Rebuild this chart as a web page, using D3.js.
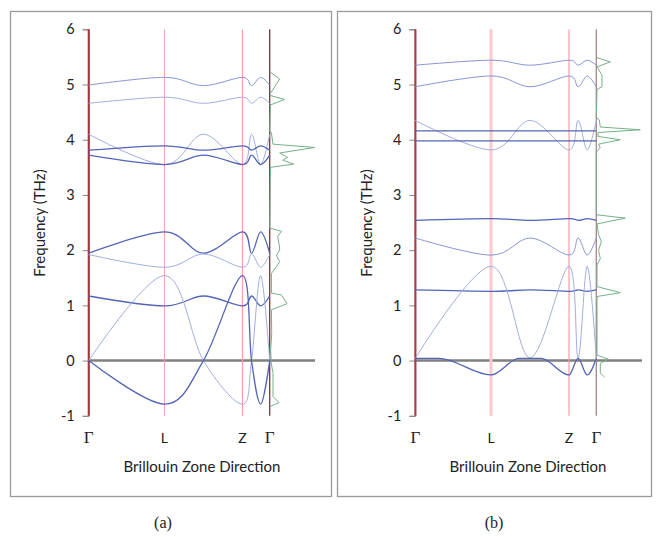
<!DOCTYPE html>
<html>
<head>
<meta charset="utf-8">
<script src="https://cdn.jsdelivr.net/npm/d3@7"></script>
<style>
  body { margin: 0; background: #fff; }
</style>
</head>
<body>
<script>
// tick labels and path points
const freqTicks = [-1, 0, 1, 2, 3, 4, 5, 6];
const kNames = ["Γ", "L", "Z", "Γ"];
const kMarks = [0, 1, 2.03, 2.39];
const kPath = [0, 1, 1.515, 2.03, 2.15, 2.27, 2.39];
const kFlat = [0, 0.31, 1, 1.37, 1.515, 1.66, 2.03, 2.15, 2.27, 2.39];

// panel (a) bands, values on kPath (THz)
const a1 = [4.99, 5.13, 4.98, 5.13, 4.98, 5.13, 4.99];
const a2 = [4.66, 4.77, 4.66, 4.77, 4.66, 4.77, 4.66];
const a3 = [4.10, 3.55, 4.10, 3.55, 4.10, 3.55, 4.10];
const a4 = [3.81, 3.89, 3.81, 3.89, 3.81, 3.89, 3.81];
const a5 = [3.72, 3.55, 3.72, 3.55, 3.72, 3.55, 3.72];
const a6 = [1.945, 2.33, 1.945, 2.33, 1.945, 2.33, 1.945];
const a7 = [1.92, 1.69, 1.93, 1.69, 1.93, 1.69, 1.92];
const a8 = [1.17, 0.99, 1.17, 0.99, 1.17, 0.99, 1.17];
const a9 = [0, 1.54, 0, -0.79, 0, 1.54, 0];
const a10 = [0, -0.79, 0, 1.54, 0, -0.79, 0];

// panel (b) bands
const b1 = [5.35, 5.44, 5.35, 5.44, 5.35, 5.44, 5.35];
const b2 = [4.96, 5.155, 4.96, 5.155, 4.96, 5.155, 4.96];
const b3 = [4.35, 3.815, 4.35, 3.815, 4.35, 3.815, 4.35];
const b4 = [2.54, 2.57, 2.54, 2.57, 2.54, 2.57, 2.54];
const b5 = [2.22, 1.91, 2.22, 1.91, 2.22, 1.91, 2.22];
const b6 = [1.28, 1.255, 1.28, 1.255, 1.28, 1.255, 1.28];
const b7 = [0.04, 1.71, 0.05, 1.71, 0.04, 1.71, 0.04];
const b8 = [0.04, 0.04, -0.26, 0.04, 0.04, 0.04, -0.26, 0.04, -0.26, 0.04]; // on kFlat
const bFlat = [4.16, 3.98];

// density of states (freq, a.u.)
const dosAf = [5.23, 5.10, 4.84, 4.80, 4.73, 4.63, 4.15, 4.13, 3.92, 3.86, 3.76, 3.68, 3.63, 3.56, 3.50, 2.40, 2.34, 2.25, 2.10, 2.00, 1.91, 1.79, 1.70, 1.58, 1.22, 1.19, 1.03, 0.92, 0.50, 0.20, -0.04, -0.22, -0.65, -0.76, -0.83];
const dosAd = [0, 10, 0.7, 0.7, 15, 0.7, 0, 1.7, 3.3, 45, 10, 18, 13, 24, 0.7, 0, 11.7, 8, 9.5, 10, 6.7, 10, 6.7, 1.7, 1.7, 11.7, 17.3, 1.7, 2, 1, 1.5, 3.3, 3.3, 9.3, 0.7];
const dosBf = [5.49, 5.41, 5.32, 5.17, 4.96, 4.91, 4.40, 4.36, 4.23, 4.18, 4.13, 4.06, 4.00, 3.92, 3.85, 3.78, 2.66, 2.64, 2.58, 2.475, 2.28, 2.155, 2.00, 1.85, 1.73, 1.34, 1.23, 1.16, 0.10, 0.025, -0.05, -0.23, -0.30];
const dosBd = [0, 14, 0.7, 5.7, 5.7, 0.7, 0, 3, 4, 44, 1.7, 1.7, 24, 2.3, 4, 0, 0, 0.7, 29, 0.7, 2.3, 5, 2.3, 4, 0.7, 0.7, 24, 0.7, 0.7, 12, 4, 4, 8.3];

const dark = "#5264b6", mid = "#8896d4", light = "#a2aee0";
const sans = "Lato, 'Open Sans', sans-serif";
const serif = "'Liberation Serif', 'DejaVu Serif', serif";

const svg = d3.select("body").append("svg")
  .attr("width", 656).attr("height", 537);

function drawPanel(p) {
  const g = svg.append("g");

  g.append("rect")
    .attr("x", p.box[0]).attr("y", 11.5)
    .attr("width", p.box[1] - p.box[0]).attr("height", 485)
    .attr("fill", "none").attr("stroke", "#9a9a9a").attr("stroke-width", 1.3);

  const x = d3.scaleLinear().domain([0, 2.39]).range([p.x0, p.x0 + 181]);
  const y = d3.scaleLinear().domain([-1, 6]).range([415.8, 29.3]);
  const gx = x(2.39);
  const dx = d3.scaleLinear().domain([0, 1]).range([gx, gx + 1]);

  // y axis
  const ax = g.append("g")
    .attr("transform", `translate(${x(0)},0)`)
    .call(d3.axisLeft(y).tickValues(freqTicks).tickSize(6).tickPadding(8)
      .tickFormat(d => String(d)));
  ax.select(".domain").attr("stroke", "#888");
  ax.selectAll(".tick line").attr("stroke", "#888");
  ax.selectAll(".tick text").attr("font-size", 14.5).attr("fill", "#222")
    .attr("font-family", sans);

  // zero line
  g.append("line")
    .attr("x1", x(0)).attr("x2", p.zeroEnd)
    .attr("y1", y(0)).attr("y2", y(0))
    .attr("stroke", "#808080").attr("stroke-width", 2.5);

  // high-symmetry lines and labels
  kMarks.forEach((k, i) => {
    const gamma = i === 0 || i === 3;
    g.append("line")
      .attr("x1", x(k)).attr("x2", x(k))
      .attr("y1", y(6)).attr("y2", y(-1))
      .attr("stroke", p.symColor[i]).attr("stroke-width", p.symWidth[i]);
    g.append("text")
      .attr("x", x(k)).attr("y", 443)
      .attr("text-anchor", "middle")
      .attr("font-size", gamma ? 17 : 14)
      .attr("font-family", gamma ? serif : sans)
      .attr("fill", "#222")
      .text(kNames[i]);
  });

  const smooth = d3.line()
    .x(d => x(d[0])).y(d => y(d[1]))
    .curve(d3.curveCardinal.tension(0));
  const flatSmooth = d3.line()
    .x(d => x(d[0])).y(d => y(d[1]))
    .curve(d3.curveMonotoneX);

  p.bands.forEach((b, i) => {
    const gen = b.k === kFlat ? flatSmooth : smooth;
    g.append("path")
      .attr("d", gen(b.k.map((k, j) => [k, b.v[j]])))
      .attr("fill", "none")
      .attr("stroke", p.colors[i])
      .attr("stroke-width", p.colors[i] === dark ? 1.3 : 1);
  });

  (p.flat || []).forEach(f => {
    g.append("line")
      .attr("x1", x(0)).attr("x2", x(2.39))
      .attr("y1", y(f)).attr("y2", y(f))
      .attr("stroke", "#5565ad").attr("stroke-width", 1.2);
  });

  // DOS
  g.append("path")
    .attr("d", d3.line().x(d => dx(d[1])).y(d => y(d[0]))(p.dosF.map((f, j) => [f, p.dosD[j]])))
    .attr("fill", "none").attr("stroke", "#76b08a").attr("stroke-width", 1);

  g.append("text")
    .attr("transform", `translate(${p.labelX},223) rotate(-90)`)
    .attr("text-anchor", "middle").attr("font-size", 15)
    .attr("font-family", sans).attr("fill", "#222")
    .text("Frequency (THz)");

  g.append("text")
    .attr("x", p.titleX).attr("y", 472)
    .attr("text-anchor", "middle").attr("font-size", 15)
    .attr("font-family", sans).attr("fill", "#222")
    .text("Brillouin Zone Direction");

  svg.append("text")
    .attr("x", p.capX).attr("y", 528)
    .attr("text-anchor", "middle").attr("font-size", 16)
    .attr("font-family", serif).attr("fill", "#222")
    .text(p.caption);
}

drawPanel({
  box: [10.5, 331.5], x0: 88.7, zeroEnd: 315, labelX: 45, titleX: 202, capX: 163, caption: "(a)",
  symColor: ["#a3353b", "#f5a3aa", "#f5a3aa", "#6b3b3b"],
  symWidth: [2, 1, 1.2, 1.3],
  bands: [a1, a2, a3, a4, a5, a6, a7, a8, a9, a10].map(v => ({ k: kPath, v })),
  colors: [mid, light, light, dark, dark, dark, light, dark, light, dark],
  dosF: dosAf, dosD: dosAd
});

drawPanel({
  box: [337.5, 651.5], x0: 415.3, zeroEnd: 642, labelX: 372, titleX: 528, capX: 494, caption: "(b)",
  symColor: ["#b03a3f", "#f9c9cc", "#f39ea6", "#a88484"],
  symWidth: [2, 3, 1.2, 1.3],
  bands: [b1, b2, b3, b4, b5, b6, b7].map(v => ({ k: kPath, v })).concat([{ k: kFlat, v: b8 }]),
  colors: [mid, mid, light, dark, mid, dark, light, dark],
  flat: bFlat,
  dosF: dosBf, dosD: dosBd
});
</script>
</body>
</html>
